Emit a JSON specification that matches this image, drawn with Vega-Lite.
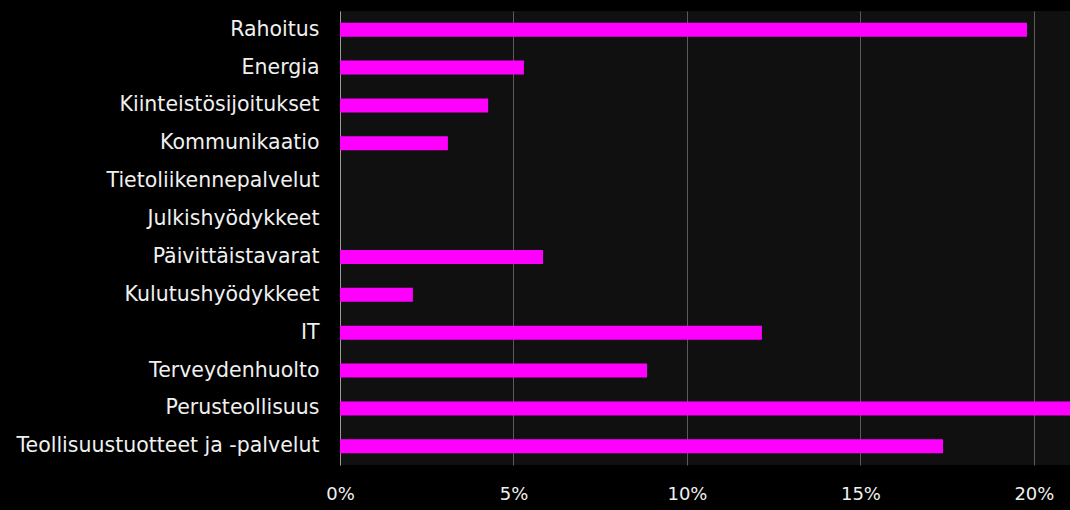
{
  "$schema": "https://vega.github.io/schema/vega-lite/v6.json",
  "autosize": "none",
  "width": 730,
  "height": 454,
  "padding": {"left": 340, "top": 11, "right": 0, "bottom": 45},
  "background": "#000000",
  "config": {
    "view": {"fill": "#101010", "stroke": null},
    "font": "DejaVu Sans"
  },
  "data": {
    "values": [
      {"sektori": "Rahoitus", "osuus": 19.8},
      {"sektori": "Energia", "osuus": 5.3},
      {"sektori": "Kiinteistösijoitukset", "osuus": 4.27},
      {"sektori": "Kommunikaatio", "osuus": 3.11},
      {"sektori": "Tietoliikennepalvelut", "osuus": 0},
      {"sektori": "Julkishyödykkeet", "osuus": 0},
      {"sektori": "Päivittäistavarat", "osuus": 5.85},
      {"sektori": "Kulutushyödykkeet", "osuus": 2.1},
      {"sektori": "IT", "osuus": 12.16},
      {"sektori": "Terveydenhuolto", "osuus": 8.85},
      {"sektori": "Perusteollisuus", "osuus": 21.2},
      {"sektori": "Teollisuustuotteet ja -palvelut", "osuus": 17.38}
    ]
  },
  "mark": {"type": "bar", "color": "#ff00ff", "clip": true},
  "encoding": {
    "y": {
      "field": "sektori",
      "type": "nominal",
      "sort": null,
      "scale": {"paddingInner": 0.63, "paddingOuter": 0.31},
      "axis": {
        "title": null,
        "labelColor": "#f0f0f0",
        "labelFontSize": 20.5,
        "labelPadding": 21,
        "ticks": false,
        "domain": true,
        "domainColor": "#9a9a9a",
        "domainWidth": 1,
        "grid": false,
        "labelLimit": 400
      }
    },
    "x": {
      "field": "osuus",
      "type": "quantitative",
      "scale": {"domain": [0, 21.04], "nice": false},
      "axis": {
        "title": null,
        "values": [0, 5, 10, 15, 20],
        "labelExpr": "datum.value + '%'",
        "labelFlush": false,
        "labelColor": "#f0f0f0",
        "labelFontSize": 18,
        "labelPadding": 20,
        "ticks": false,
        "domain": false,
        "grid": true,
        "gridColor": "#5a5a5a",
        "gridWidth": 1
      }
    }
  }
}
